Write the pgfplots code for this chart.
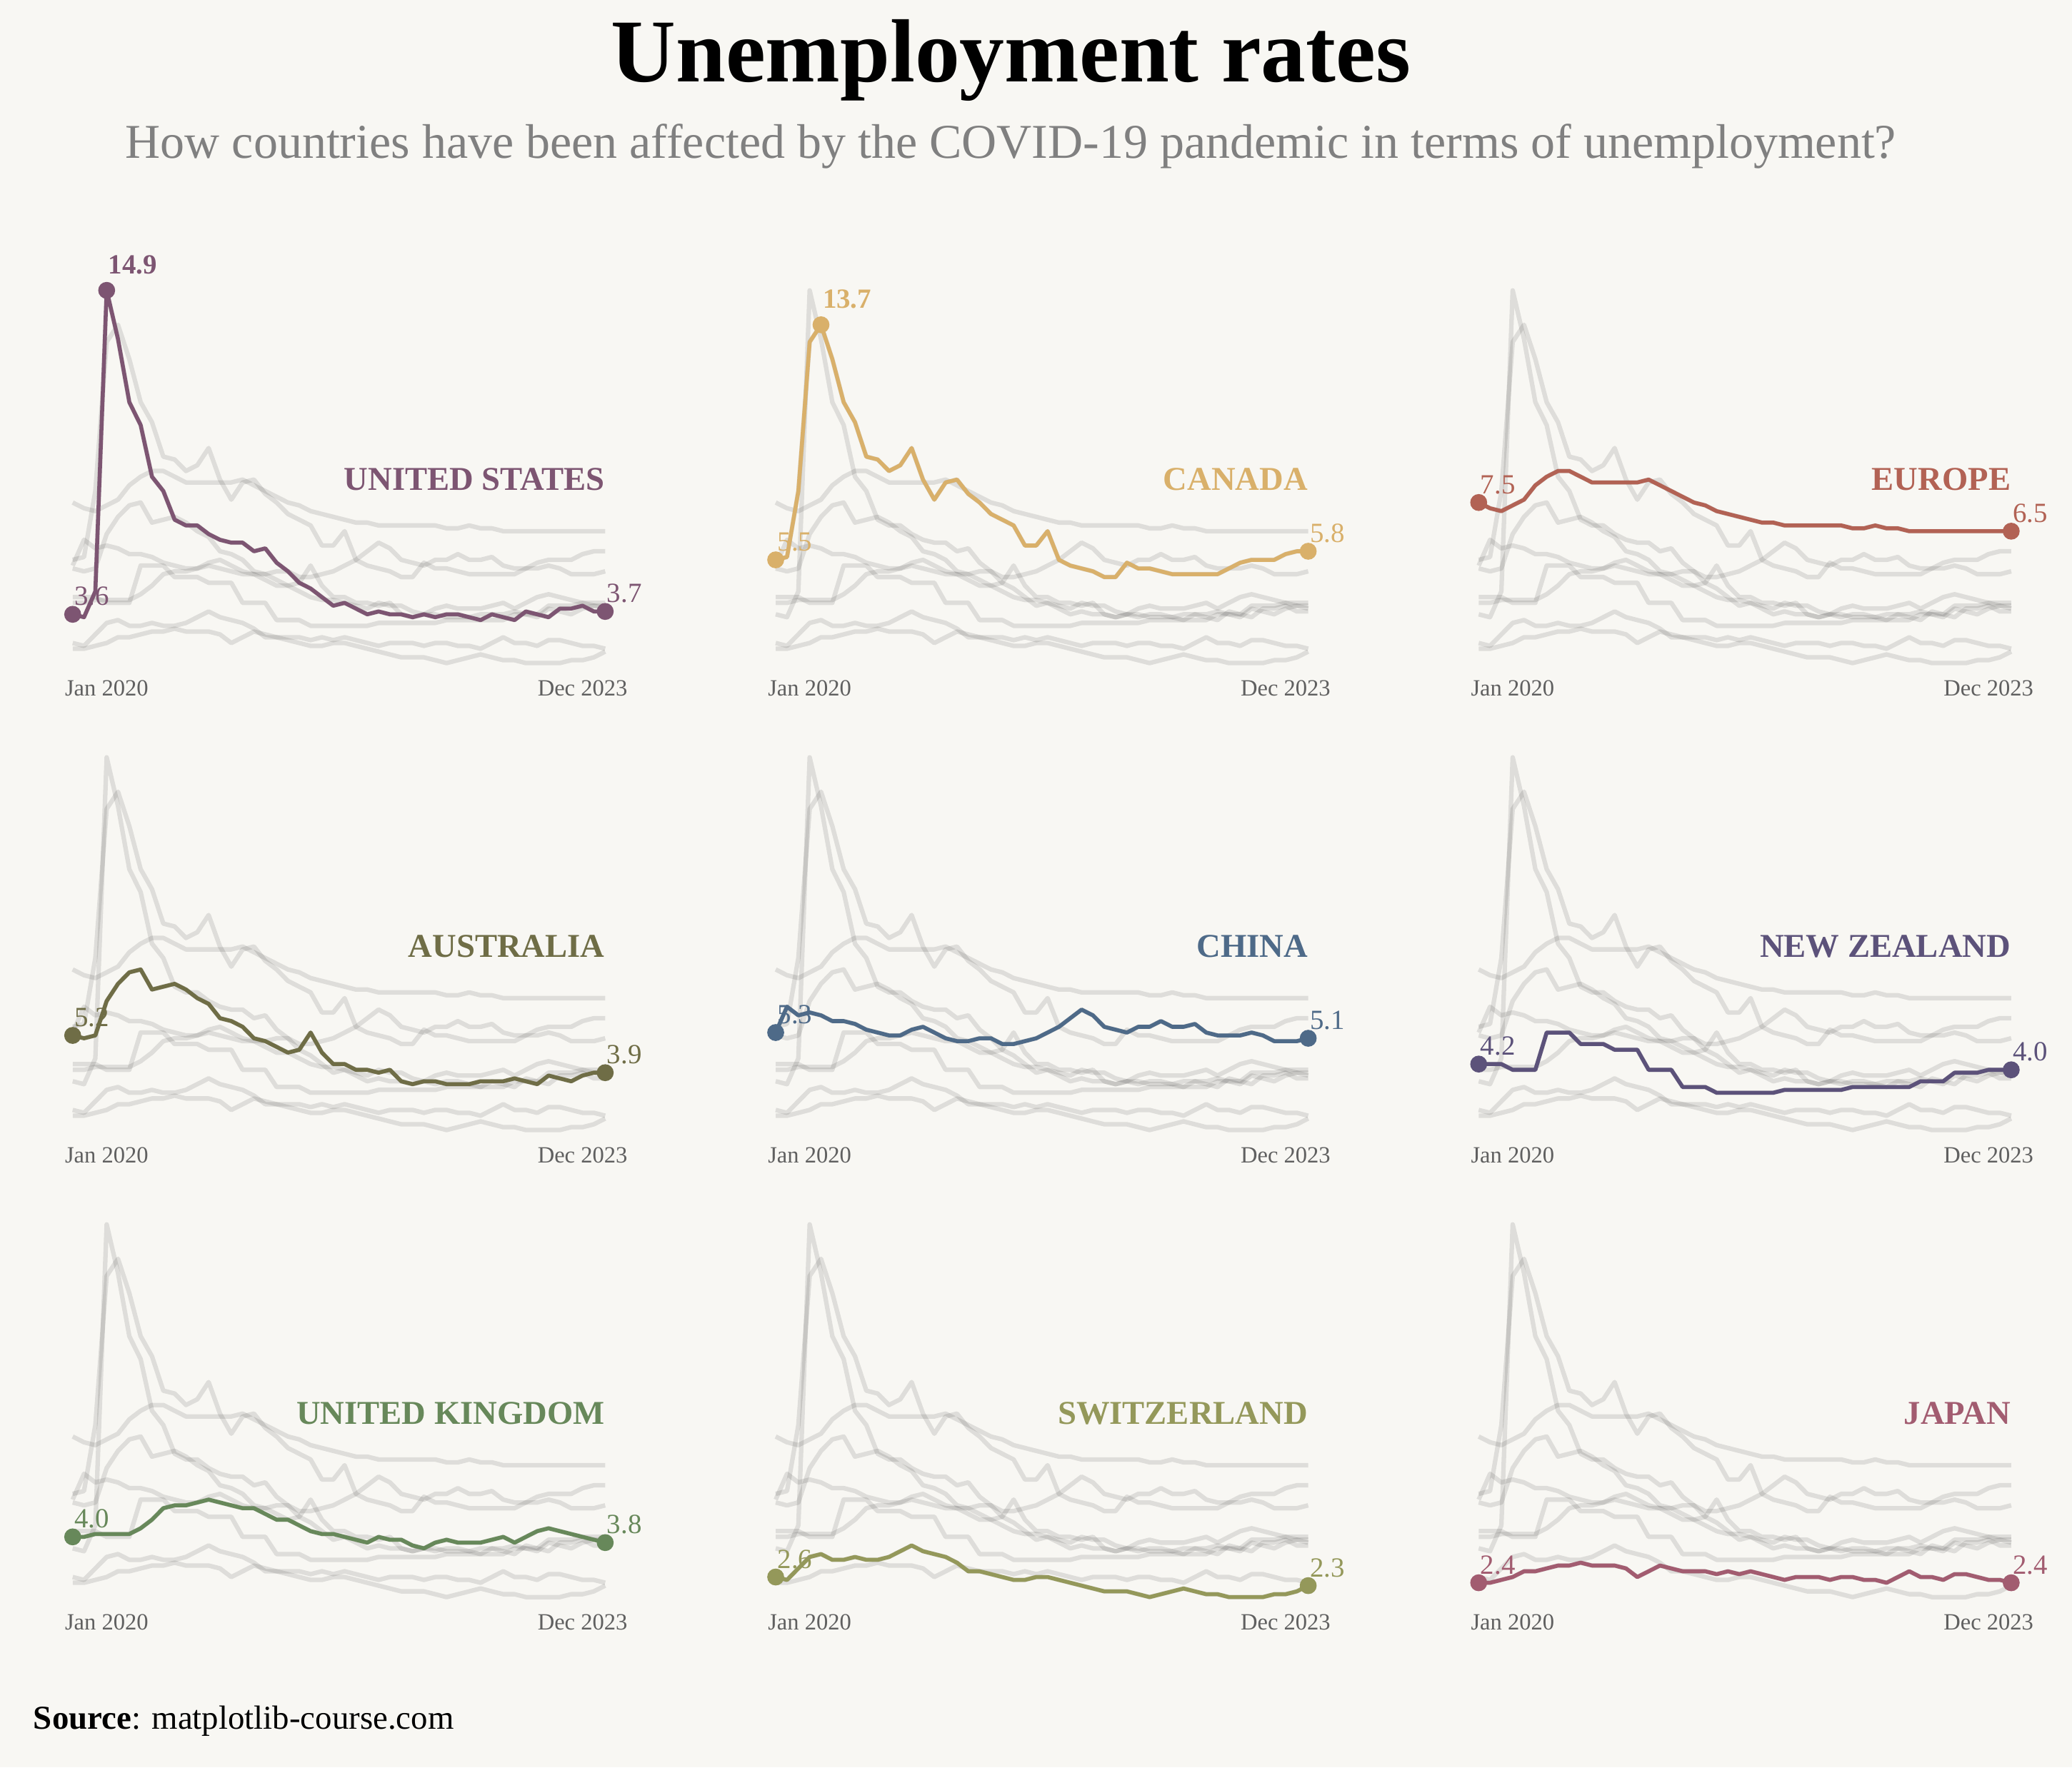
\documentclass[border=0pt]{standalone}
\usepackage{fontspec}
\setmainfont{Liberation Serif}
\usepackage{graphicx}
\usepackage{pgfplots}
\usepackage{pgfplotstable}
\pgfplotsset{compat=1.18}

\definecolor{bg}{HTML}{F8F7F3}
\definecolor{cUS}{HTML}{7D5572}
\definecolor{cCA}{HTML}{D9B06A}
\definecolor{cEU}{HTML}{B26254}
\definecolor{cAU}{HTML}{6F6D46}
\definecolor{cCN}{HTML}{4E6A88}
\definecolor{cNZ}{HTML}{5C527A}
\definecolor{cUK}{HTML}{67885A}
\definecolor{cCH}{HTML}{94985A}
\definecolor{cJP}{HTML}{A25C70}
\definecolor{subgrey}{HTML}{808080}
\definecolor{tickgrey}{HTML}{606060}

\pgfplotstableread{
i us ca eu au cn nz uk ch jp
0 3.6 5.5 7.5 5.2 5.3 4.2 4.0 2.6 2.4
1 3.5 5.6 7.3 5.1 6.2 4.2 4.0 2.5 2.4
2 4.4 7.9 7.2 5.2 5.9 4.2 4.1 2.9 2.5
3 14.9 13.1 7.4 6.4 6.0 4.0 4.1 3.3 2.6
4 13.2 13.7 7.6 7.0 5.9 4.0 4.1 3.4 2.8
5 11.0 12.5 8.1 7.4 5.7 4.0 4.1 3.2 2.8
6 10.2 11.0 8.4 7.5 5.7 5.3 4.3 3.2 2.9
7 8.4 10.3 8.6 6.8 5.6 5.3 4.6 3.3 3.0
8 7.9 9.1 8.6 6.9 5.4 5.3 5.0 3.2 3.0
9 6.9 9.0 8.4 7.0 5.3 4.9 5.1 3.2 3.1
10 6.7 8.6 8.2 6.8 5.2 4.9 5.1 3.3 3.0
11 6.7 8.8 8.2 6.5 5.2 4.9 5.2 3.5 3.0
12 6.4 9.4 8.2 6.3 5.4 4.7 5.3 3.7 3.0
13 6.2 8.3 8.2 5.8 5.5 4.7 5.2 3.5 2.9
14 6.1 7.6 8.2 5.7 5.3 4.7 5.1 3.4 2.6
15 6.1 8.2 8.3 5.5 5.1 4.0 5.0 3.3 2.8
16 5.8 8.3 8.1 5.1 5.0 4.0 5.0 3.1 3.0
17 5.9 7.8 7.9 5.0 5.0 4.0 4.8 2.8 2.9
18 5.4 7.5 7.7 4.8 5.1 3.4 4.6 2.8 2.8
19 5.1 7.1 7.5 4.6 5.1 3.4 4.6 2.7 2.8
20 4.7 6.9 7.4 4.7 4.9 3.4 4.4 2.6 2.8
21 4.5 6.7 7.2 5.3 4.9 3.2 4.2 2.5 2.7
22 4.2 6.0 7.1 4.6 5.0 3.2 4.1 2.5 2.8
23 3.9 6.0 7.0 4.2 5.1 3.2 4.1 2.6 2.7
24 4.0 6.5 6.9 4.2 5.3 3.2 4.0 2.6 2.8
25 3.8 5.5 6.8 4.0 5.5 3.2 3.9 2.5 2.7
26 3.6 5.3 6.8 4.0 5.8 3.2 3.8 2.4 2.6
27 3.7 5.2 6.7 3.9 6.1 3.3 4.0 2.3 2.5
28 3.6 5.1 6.7 4.0 5.9 3.3 3.9 2.2 2.6
29 3.6 4.9 6.7 3.6 5.5 3.3 3.9 2.1 2.6
30 3.5 4.9 6.7 3.5 5.4 3.3 3.7 2.1 2.6
31 3.6 5.4 6.7 3.6 5.3 3.3 3.6 2.1 2.5
32 3.5 5.2 6.7 3.6 5.5 3.3 3.8 2.0 2.6
33 3.6 5.2 6.6 3.5 5.5 3.4 3.9 1.9 2.6
34 3.6 5.1 6.6 3.5 5.7 3.4 3.8 2.0 2.5
35 3.5 5.0 6.7 3.5 5.5 3.4 3.8 2.1 2.5
36 3.4 5.0 6.6 3.6 5.5 3.4 3.8 2.2 2.4
37 3.6 5.0 6.6 3.6 5.6 3.4 3.9 2.1 2.6
38 3.5 5.0 6.5 3.6 5.3 3.4 4.0 2.0 2.8
39 3.4 5.0 6.5 3.7 5.2 3.6 3.8 2.0 2.6
40 3.7 5.2 6.5 3.6 5.2 3.6 4.0 1.9 2.6
41 3.6 5.4 6.5 3.5 5.2 3.6 4.2 1.9 2.5
42 3.5 5.5 6.5 3.8 5.3 3.9 4.3 1.9 2.7
43 3.8 5.5 6.5 3.7 5.2 3.9 4.2 1.9 2.7
44 3.8 5.5 6.5 3.6 5.0 3.9 4.1 2.0 2.6
45 3.9 5.7 6.5 3.8 5.0 4.0 4.0 2.0 2.5
46 3.7 5.8 6.5 3.9 5.0 4.0 3.9 2.1 2.5
47 3.7 5.8 6.5 3.9 5.1 4.0 3.8 2.3 2.4
}\data

\pgfplotsset{
  panel/.style={anchor=south west, scale only axis, width=201.5pt, height=148.65pt,
    xmin=0, xmax=47, ymin=1.5, ymax=15.2, hide axis, clip=false, enlargelimits=false},
  greyline/.style={draw=black, draw opacity=0.10, line width=1.7pt, line join=round, no marks},
}
\tikzset{
  vlab/.style={anchor=south west, inner sep=0pt, xshift=0.5pt, yshift=3pt, font=\fontsize{10.5}{10.5}\selectfont},
  plab/.style={anchor=south west, inner sep=0pt, xshift=0.5pt, yshift=6pt, font=\bfseries\fontsize{10.5}{10.5}\selectfont},
  ticklab/.style={anchor=center, inner sep=0pt, text=tickgrey, font=\fontsize{8.8}{8.8}\selectfont},
  cname/.style={anchor=east, inner sep=0pt, font=\bfseries\fontsize{12.6}{12.6}\selectfont},
}

\newcommand{\greys}{%
  \addplot[greyline] table[x=i,y=us]{\data};
  \addplot[greyline] table[x=i,y=ca]{\data};
  \addplot[greyline] table[x=i,y=eu]{\data};
  \addplot[greyline] table[x=i,y=au]{\data};
  \addplot[greyline] table[x=i,y=cn]{\data};
  \addplot[greyline] table[x=i,y=nz]{\data};
  \addplot[greyline] table[x=i,y=uk]{\data};
  \addplot[greyline] table[x=i,y=ch]{\data};
  \addplot[greyline] table[x=i,y=jp]{\data};
}

% #1 x, #2 y, #3 column, #4 colour, #5 name, #6 start, #7 end, #8 extra
\newcommand{\panel}[8]{%
\begin{axis}[panel, at={(#1,#2)}]
  \greys
  \addplot[color=#4, line width=1.5pt, line join=round, no marks] table[x=i,y=#3]{\data};
  \addplot[only marks, mark=*, mark size=3pt, color=#4] coordinates {(0,#6) (47,#7)};
  \node[vlab, text=#4] at (axis cs:0,#6) {#6};
  \node[vlab, text=#4] at (axis cs:47,#7) {#7};
  \node[cname, text=#4] at (axis cs:47,8.3) {#5};
  \node[ticklab] at (axis cs:3,1.02) {Jan 2020};
  \node[ticklab] at (axis cs:45,1.02) {Dec 2023};
  #8
\end{axis}}

\begin{document}
\begin{tikzpicture}
\path[use as bounding box, fill=bg] (0,0) rectangle (784pt,669pt);

\node[anchor=base, inner sep=0pt] at (382.5pt,638pt) {\resizebox{302.5pt}{!}{\bfseries Unemployment rates}};
\node[anchor=base, inner sep=0pt, text=subgrey] at (382.5pt,609pt) {\resizebox{670pt}{!}{How countries have been affected by the COVID-19 pandemic in terms of unemployment?}};
\node[anchor=base west, inner sep=0pt] at (12.5pt,14.5pt) {\resizebox{159pt}{!}{\textbf{Source}: matplotlib-course.com}};

\panel{27.5pt}{413.7pt}{us}{cUS}{UNITED STATES}{3.6}{3.7}{%
  \addplot[only marks, mark=*, mark size=3pt, color=cUS] coordinates {(3,14.9)};
  \node[plab, text=cUS] at (axis cs:3,14.9) {14.9};}
\panel{293.5pt}{413.7pt}{ca}{cCA}{CANADA}{5.5}{5.8}{%
  \addplot[only marks, mark=*, mark size=3pt, color=cCA] coordinates {(4,13.7)};
  \node[plab, text=cCA] at (axis cs:4,13.7) {13.7};}
\panel{559.5pt}{413.7pt}{eu}{cEU}{EUROPE}{7.5}{6.5}{}

\panel{27.5pt}{236.97pt}{au}{cAU}{AUSTRALIA}{5.2}{3.9}{}
\panel{293.5pt}{236.97pt}{cn}{cCN}{CHINA}{5.3}{5.1}{}
\panel{559.5pt}{236.97pt}{nz}{cNZ}{NEW ZEALAND}{4.2}{4.0}{}

\panel{27.5pt}{60.2pt}{uk}{cUK}{UNITED KINGDOM}{4.0}{3.8}{}
\panel{293.5pt}{60.2pt}{ch}{cCH}{SWITZERLAND}{2.6}{2.3}{}
\panel{559.5pt}{60.2pt}{jp}{cJP}{JAPAN}{2.4}{2.4}{}
\end{tikzpicture}
\end{document}
